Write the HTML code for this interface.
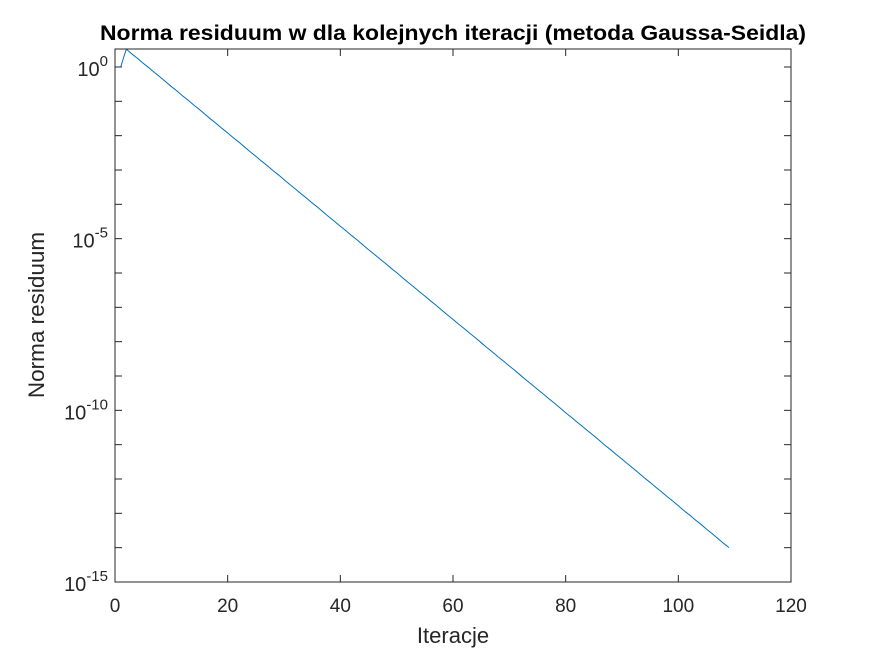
<!DOCTYPE html>
<html><head><meta charset="utf-8"><style>
body{margin:0;background:#fff;}
svg{display:block;font-family:"Liberation Sans",Arial,sans-serif;}
</style></head><body>
<svg id="chart" width="875" height="656" viewBox="0 0 875 656" xmlns="http://www.w3.org/2000/svg">
<rect width="875" height="656" fill="#fff"/>
<text x="453" y="40" text-anchor="middle" font-size="21" font-weight="bold" fill="#000" textLength="706" lengthAdjust="spacingAndGlyphs">Norma residuum w dla kolejnych iteracji (metoda Gaussa-Seidla)</text>
<text x="453" y="643" text-anchor="middle" font-size="22" fill="#262626">Iteracje</text>
<text transform="translate(44,315) rotate(-90)" text-anchor="middle" font-size="22.5" fill="#262626">Norma residuum</text>
<g id="ticks"></g>
<g id="series"></g>
<rect x="115" y="49" width="676" height="533" fill="none" stroke="#262626" stroke-width="1"/>
</svg>
<script>
const xTicks = [0,20,40,60,80,100,120];
const yTickExps = [0,-5,-10,-15];
const iterations = [];
for (let i = 1; i <= 109; i++) iterations.push(i);
const logResidual = [0,0.52,0.38,0.25,0.11,-0.02,-0.16,-0.29,-0.43,-0.57,-0.70,-0.84,-0.97,-1.11,-1.24,-1.38,-1.52,-1.65,-1.79,-1.92,-2.06,-2.19,-2.33,-2.47,-2.60,-2.74,-2.87,-3.01,-3.14,-3.28,-3.42,-3.55,-3.69,-3.82,-3.96,-4.09,-4.23,-4.37,-4.50,-4.64,-4.77,-4.91,-5.04,-5.18,-5.32,-5.45,-5.59,-5.72,-5.86,-5.99,-6.13,-6.27,-6.40,-6.54,-6.67,-6.81,-6.94,-7.08,-7.22,-7.35,-7.49,-7.62,-7.76,-7.89,-8.03,-8.17,-8.30,-8.44,-8.57,-8.71,-8.84,-8.98,-9.12,-9.25,-9.39,-9.52,-9.66,-9.79,-9.93,-10.07,-10.20,-10.34,-10.47,-10.61,-10.74,-10.88,-11.02,-11.15,-11.29,-11.42,-11.56,-11.69,-11.83,-11.97,-12.10,-12.24,-12.37,-12.51,-12.64,-12.78,-12.92,-13.05,-13.19,-13.32,-13.46,-13.59,-13.73,-13.87,-14.00];

const L=115,R=791,T=49,B=582, xmin=0,xmax=120, lmin=-15,lmax=0.524;
const xs=v=>L+(v-xmin)/(xmax-xmin)*(R-L);
const ys=l=>B-(l-lmin)/(lmax-lmin)*(B-T);
const NS="http://www.w3.org/2000/svg";
const tg=document.getElementById('ticks');
function mk(tag,attrs,parent){const e=document.createElementNS(NS,tag);for(const k in attrs)e.setAttribute(k,attrs[k]);parent.appendChild(e);return e;}
xTicks.forEach(v=>{
  const x=xs(v);
  const t1=mk('line',{x1:x,x2:x,y1:B,y2:B-7,stroke:'#262626'},tg);
  
  
  const t2=mk('line',{x1:x,x2:x,y1:T,y2:T+7,stroke:'#262626'},tg);
  
  
  const lb=mk('text',{x:x,y:612,'text-anchor':'middle','font-size':'19',fill:'#262626'},tg);
  lb.textContent=v;
  
  
});
for(let e=-15;e<=0;e++){
  const y=ys(e);
  const a=mk('line',{x1:L,x2:L+7,y1:y,y2:y,stroke:'#262626'},tg);
  
  
  const b=mk('line',{x1:R,x2:R-7,y1:y,y2:y,stroke:'#262626'},tg);
  
  
}
yTickExps.forEach(e=>{
  const y=ys(e);
  const lb=mk('text',{x:108,y:y+9,'text-anchor':'end','font-size':'20',fill:'#262626'},tg);
  
  
  const base=document.createElementNS(NS,'tspan');base.textContent='10';lb.appendChild(base);
  const sup=document.createElementNS(NS,'tspan');sup.setAttribute('dy','-10');sup.setAttribute('font-size','15');sup.textContent=e;lb.appendChild(sup);
});
const sg=document.getElementById('series');
const pts=iterations.map((v,i)=>xs(v).toFixed(2)+','+ys(logResidual[i]).toFixed(2)).join(' ');
const pl=mk('polyline',{points:pts,fill:'none',stroke:'#0072BD','stroke-width':'1'},sg);


</script>
</body></html>
